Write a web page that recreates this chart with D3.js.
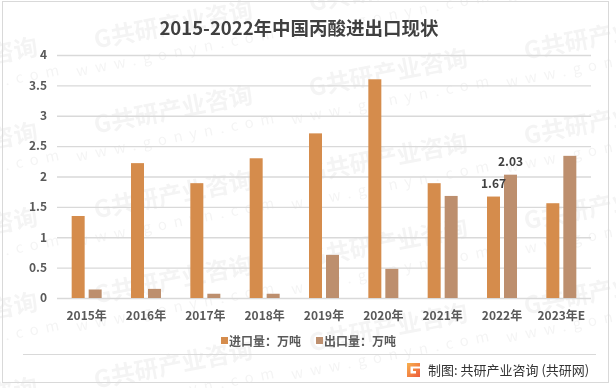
<!DOCTYPE html>
<html>
<head>
<meta charset="utf-8">
<script src="https://cdn.jsdelivr.net/npm/d3@7"></script>
<style>
  body { margin: 0; background: #fff; }
  svg { display: block; }
</style>
</head>
<body>
<div id="chart"></div>
<script>
    // data (unit: 万吨)
    var years = ["2015年", "2016年", "2017年", "2018年", "2019年", "2020年", "2021年", "2022年", "2023年E"];
    var importVals = [1.35, 2.22, 1.89, 2.30, 2.71, 3.60, 1.89, 1.67, 1.56];
    var exportVals = [0.14, 0.15, 0.07, 0.07, 0.71, 0.48, 1.68, 2.03, 2.34];
    var yTicks = [0, 0.5, 1, 1.5, 2, 2.5, 3, 3.5, 4];
    var seriesNames = ["进口量：万吨", "出口量：万吨"];
    // only 2022 carries value labels
    var labelYear = "2022年";

    var importColor = "#D58C4C";
    var exportColor = "#BD8F6E";
    var gridColor = "#D9D9D9";
    var textGrey = "#595959";
    var font = "'Noto Sans CJK SC', 'Noto Sans', sans-serif";

    const W = 616, H = 388;
    const plot = { left: 57, right: 591, top: 55, bottom: 298 };

    const svg = d3.select("#chart").append("svg")
      .attr("width", W)
      .attr("height", H)
      .style("font-family", font);

    svg.append("rect").attr("width", W).attr("height", H).attr("fill", "#fff");

    // faint watermark tiles
    const wm = svg.append("g").attr("fill", "#000").attr("opacity", 0.045);
    for (let c = 0; c < 4; c++) {
      for (let r = -1; r < 5; r++) {
        const cx = -40 + 215 * c, cy = 70 + 85 * r - 37 * c;
        const g = wm.append("g").attr("transform", `translate(${cx},${cy}) rotate(-11)`);
        g.append("text").attr("text-anchor", "middle").attr("font-size", 24).attr("font-weight", "bold")
          .text("G共研产业咨询");
        g.append("text").attr("text-anchor", "middle").attr("y", 24).attr("font-size", 15)
          .attr("letter-spacing", 7).text("www.gonyn.com");
      }
    }

    // outer frame
    svg.append("rect")
      .attr("x", 2.5).attr("y", 1.5)
      .attr("width", 606).attr("height", 381)
      .attr("fill", "none").attr("stroke", gridColor);

    // title
    svg.append("text")
      .attr("x", 299).attr("y", 35)
      .attr("text-anchor", "middle")
      .attr("font-size", 18.5).attr("font-weight", "bold")
      .attr("fill", "#404040")
      .text("2015-2022年中国丙酸进出口现状");

    const x = d3.scaleBand().domain(years).range([plot.left, plot.right]);
    const y = d3.scaleLinear().domain([0, 4]).range([plot.bottom, plot.top]);

    // gridlines + y labels
    const yAxis = svg.append("g")
      .attr("transform", `translate(${plot.left},0)`)
      .call(d3.axisLeft(y).tickValues(yTicks).tickSize(-(plot.right - plot.left)).tickPadding(10).tickFormat(d => d));
    yAxis.select(".domain").remove();
    yAxis.selectAll("line").attr("stroke", gridColor).attr("stroke-width", 1.3);
    yAxis.selectAll("text")
      .style("font-family", font)
      .attr("font-size", 12).attr("font-weight", "bold")
      .attr("fill", textGrey);

    // x labels
    const xAxis = svg.append("g")
      .attr("transform", `translate(0,${plot.bottom})`)
      .call(d3.axisBottom(x).tickSize(0).tickPadding(13));
    xAxis.select(".domain").remove();
    xAxis.selectAll("text")
      .style("font-family", font)
      .attr("font-size", 12).attr("font-weight", "bold")
      .attr("fill", textGrey);

    const barW = 13, gap = 2;

    svg.append("g").selectAll("rect")
      .data(years)
      .enter()
      .append("rect")
      .attr("x", (d) => x(d) + x.bandwidth() / 2 - gap - barW)
      .attr("y", (d, i) => y(importVals[i]))
      .attr("width", barW)
      .attr("height", (d, i) => y(0) - y(importVals[i]))
      .attr("fill", importColor);

    svg.append("g").selectAll("rect")
      .data(years)
      .enter()
      .append("rect")
      .attr("x", (d) => x(d) + x.bandwidth() / 2 + gap)
      .attr("y", (d, i) => y(exportVals[i]))
      .attr("width", barW)
      .attr("height", (d, i) => y(0) - y(exportVals[i]))
      .attr("fill", exportColor);

    // value labels for 2022
    const li = years.indexOf(labelYear);
    const lc = x(labelYear) + x.bandwidth() / 2;
    svg.append("text")
      .attr("x", lc - gap - barW / 2).attr("y", y(importVals[li]) - 9)
      .attr("text-anchor", "middle").attr("font-size", 12).attr("font-weight", "bold")
      .attr("fill", "#404040").text(importVals[li].toFixed(2));
    svg.append("text")
      .attr("x", lc + gap + barW / 2).attr("y", y(exportVals[li]) - 9)
      .attr("text-anchor", "middle").attr("font-size", 12).attr("font-weight", "bold")
      .attr("fill", "#404040").text(exportVals[li].toFixed(2));

    // legend
    const legendX = [221, 316];
    const legendColors = [importColor, exportColor];
    seriesNames.forEach(function (name, i) {
      svg.append("rect")
        .attr("x", legendX[i]).attr("y", 337)
        .attr("width", 7).attr("height", 7)
        .attr("fill", legendColors[i]);
      svg.append("text")
        .attr("x", legendX[i] + 8).attr("y", 345.5)
        .attr("font-size", 12).attr("font-weight", "bold")
        .attr("fill", textGrey)
        .text(name);
    });

    // footer
    svg.append("line")
      .attr("x1", 23).attr("x2", 596)
      .attr("y1", 354.5).attr("y2", 354.5)
      .attr("stroke", gridColor);

    const grad = svg.append("defs").append("linearGradient")
      .attr("id", "logoGrad").attr("x1", 0).attr("y1", 0).attr("x2", 1).attr("y2", 1);
    grad.append("stop").attr("offset", "0%").attr("stop-color", "#F7B24E");
    grad.append("stop").attr("offset", "100%").attr("stop-color", "#EE5A3A");

    const logo = svg.append("g").attr("transform", "translate(406,363)").attr("fill", "url(#logoGrad)");
    logo.append("path").attr("d", "M1,0 H14 V3.5 H4.5 V10.5 H10 V8 H7 V5.5 H14 V14 H1 Z");

    svg.append("text")
      .attr("x", 428).attr("y", 375)
      .attr("font-size", 13)
      .attr("fill", "#333")
      .text("制图: 共研产业咨询 (共研网)");
</script>
</body>
</html>
